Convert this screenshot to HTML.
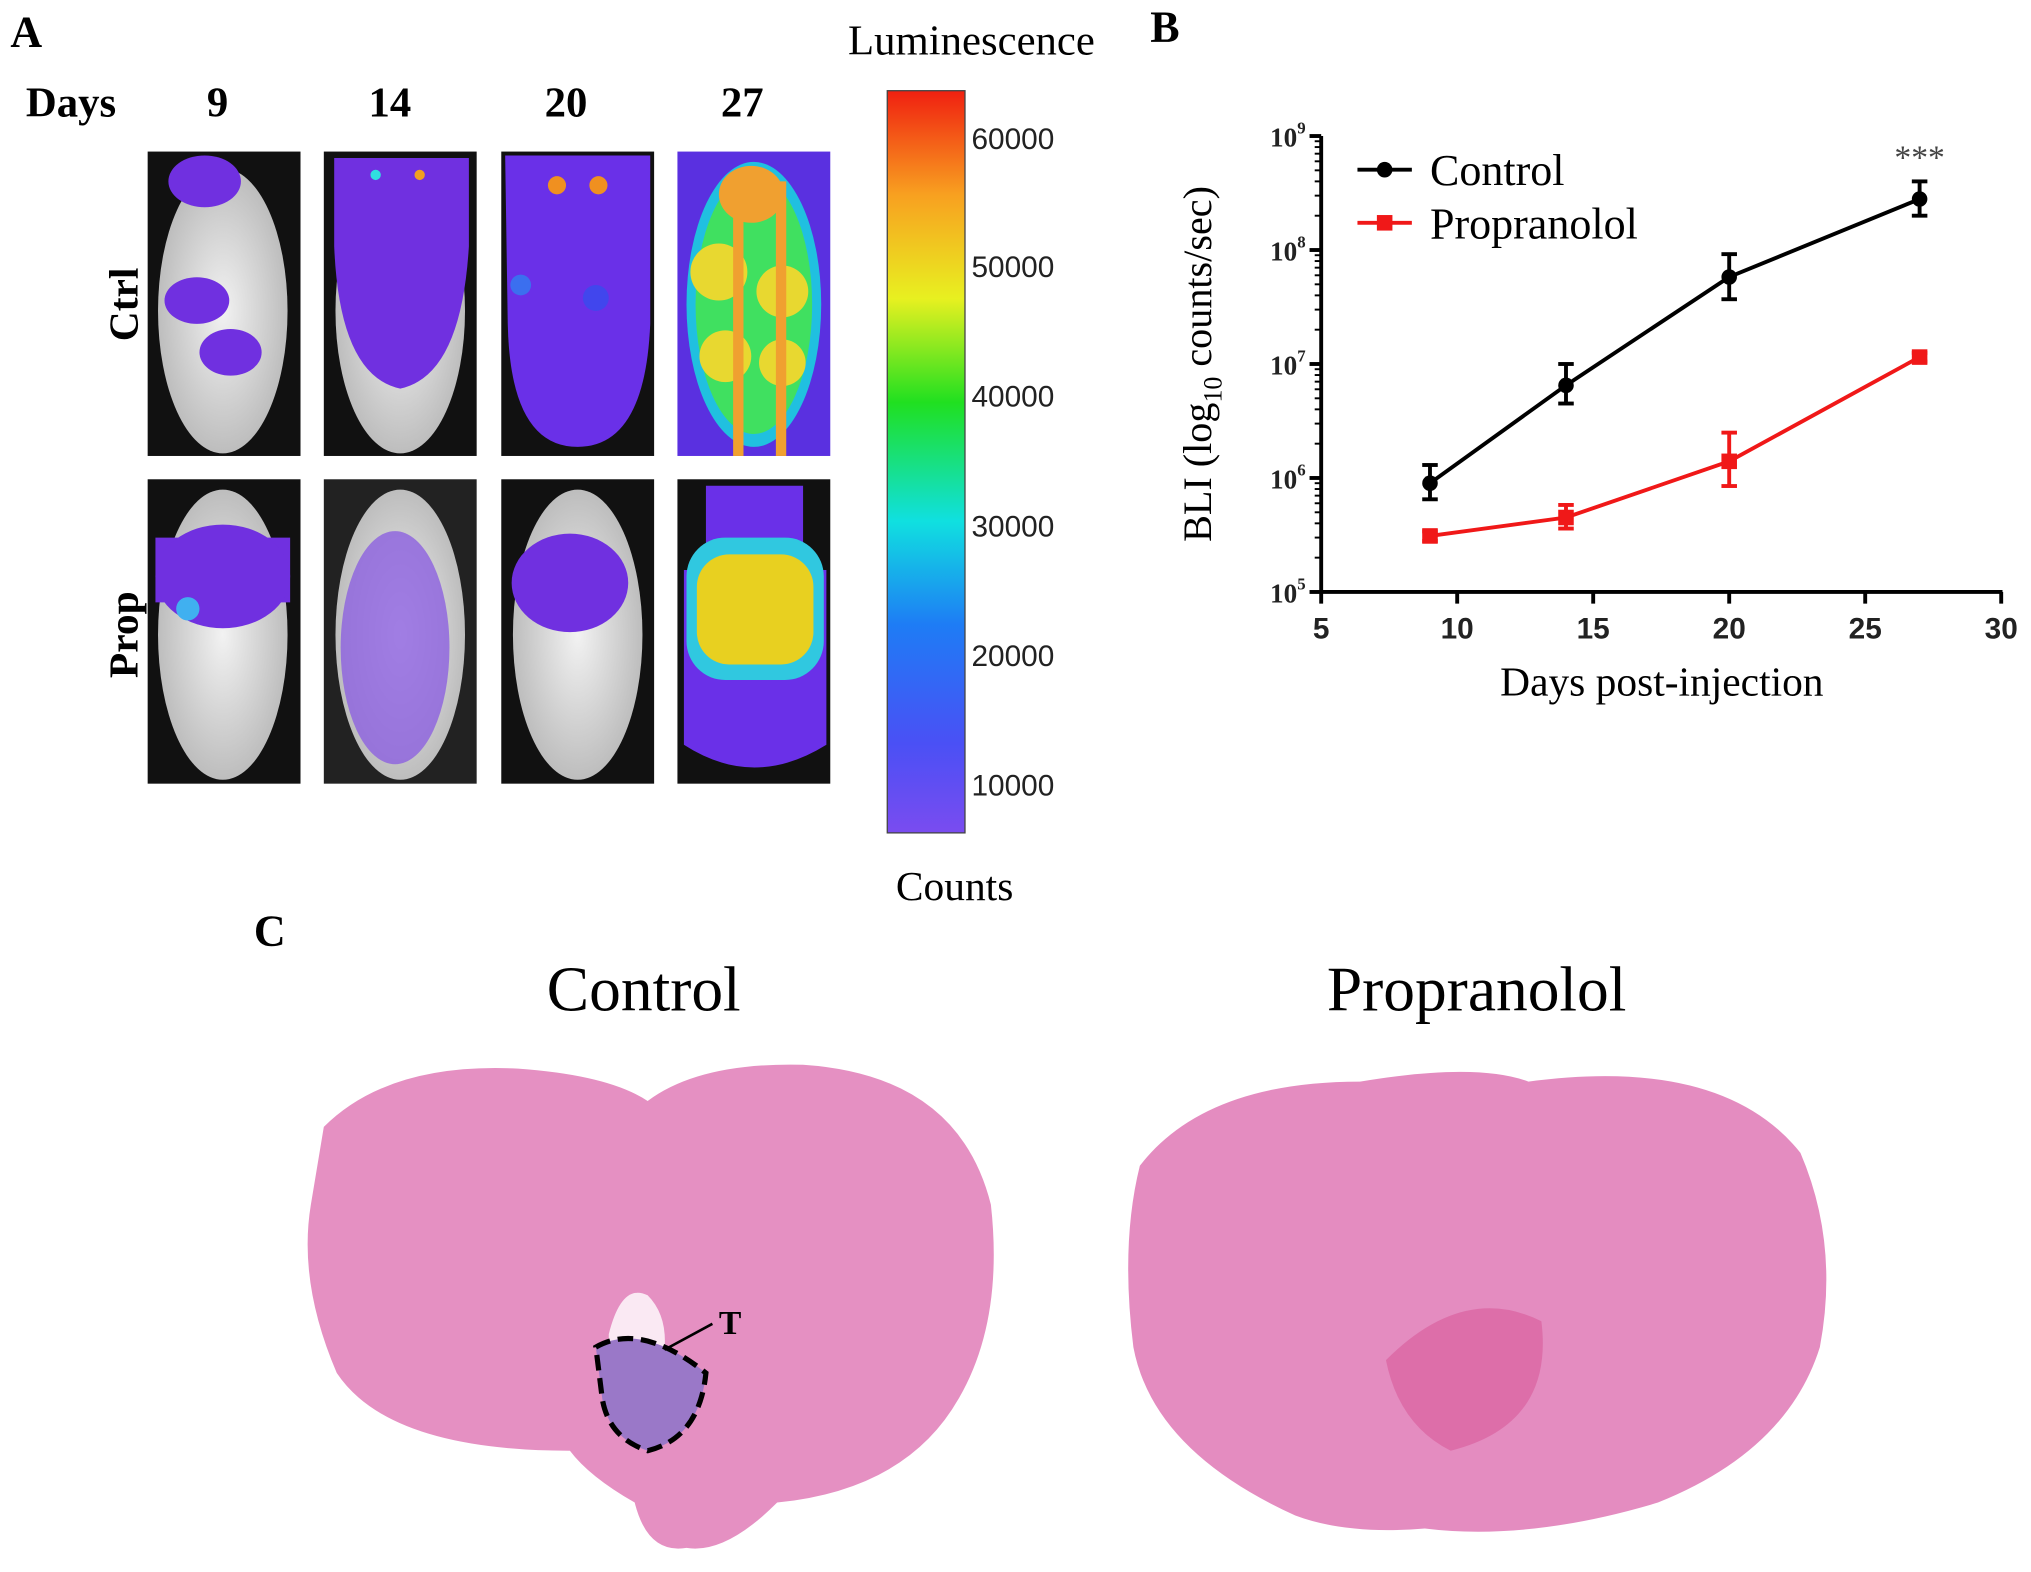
<!DOCTYPE html>
<html><head><meta charset="utf-8"><style>
html,body{margin:0;padding:0;background:#fff;}
svg{display:block;font-family:"Liberation Serif",serif;}
</style></head><body>
<svg width="2031" height="1572" viewBox="0 0 1568 1213.6" xmlns="http://www.w3.org/2000/svg">
<defs>
<linearGradient id="cbar" x1="0" y1="1" x2="0" y2="0">
<stop offset="0" stop-color="#7a4cf0"/><stop offset="0.12" stop-color="#4a50f5"/><stop offset="0.28" stop-color="#1e7cf5"/><stop offset="0.42" stop-color="#10e0e0"/><stop offset="0.58" stop-color="#20e020"/><stop offset="0.72" stop-color="#e8f020"/><stop offset="0.86" stop-color="#f8a020"/><stop offset="1" stop-color="#f02010"/>
</linearGradient>
<radialGradient id="mouseW" cx="0.5" cy="0.5" r="0.55"><stop offset="0" stop-color="#f2f2f2"/><stop offset="1" stop-color="#b8b8b8"/></radialGradient>
</defs>

<!-- Panel A -->
<text x="8" y="36" font-size="34" font-weight="bold">A</text>
<text x="20" y="90" font-size="33" font-weight="bold">Days</text>
<g font-size="33" font-weight="bold" text-anchor="middle">
<text x="168" y="90">9</text><text x="301" y="90">14</text><text x="437" y="90">20</text><text x="573" y="90">27</text>
</g>
<text transform="translate(106,235) rotate(-90)" font-size="32" font-weight="bold" text-anchor="middle">Ctrl</text>
<text transform="translate(106,490) rotate(-90)" font-size="32" font-weight="bold" text-anchor="middle">Prop</text>

<!-- mice row 1 -->
<g><rect x="114" y="117" width="118" height="235" fill="#111"/><ellipse cx="172" cy="240" rx="50" ry="110" fill="url(#mouseW)"/><ellipse cx="158" cy="140" rx="28" ry="20" fill="#7030e0"/><ellipse cx="152" cy="232" rx="25" ry="18" fill="#7030e0"/><ellipse cx="178" cy="272" rx="24" ry="18" fill="#7030e0"/></g>
<g><rect x="250" y="117" width="118" height="235" fill="#111"/><ellipse cx="309" cy="240" rx="50" ry="110" fill="url(#mouseW)"/><path d="M258 122 H362 V190 Q356 290 309 300 Q262 290 258 190Z" fill="#7030e0"/><circle cx="290" cy="135" r="4" fill="#30e0e0"/><circle cx="324" cy="135" r="4" fill="#f0a020"/></g>
<g><rect x="387" y="117" width="118" height="235" fill="#111"/><path d="M390 120 H502 V250 Q498 345 446 345 Q394 345 392 250Z" fill="#6a30e8"/><circle cx="430" cy="143" r="7" fill="#f09020"/><circle cx="462" cy="143" r="7" fill="#f09020"/><circle cx="402" cy="220" r="8" fill="#3080f0" opacity=".8"/><circle cx="460" cy="230" r="10" fill="#3050f0" opacity=".7"/></g>
<g><rect x="523" y="117" width="118" height="235" fill="#5a30e0"/><ellipse cx="582" cy="235" rx="52" ry="110" fill="#20c0e0"/><ellipse cx="582" cy="235" rx="45" ry="100" fill="#40e060"/><circle cx="555" cy="210" r="22" fill="#e8d830"/><circle cx="604" cy="225" r="20" fill="#e8d830"/><circle cx="560" cy="275" r="20" fill="#e8d830"/><circle cx="604" cy="280" r="18" fill="#e8d830"/><ellipse cx="580" cy="150" rx="25" ry="22" fill="#f0a030"/><rect x="566" y="140" width="8" height="212" fill="#f0a030"/><rect x="599" y="140" width="8" height="212" fill="#f0a030"/></g>
<!-- mice row 2 -->
<g><rect x="114" y="370" width="118" height="235" fill="#111"/><ellipse cx="172" cy="490" rx="50" ry="112" fill="url(#mouseW)"/><path d="M120 415 H224 V465 H120Z" fill="#7030e0"/><ellipse cx="172" cy="445" rx="52" ry="40" fill="#7030e0"/><circle cx="145" cy="470" r="9" fill="#40b0f0"/></g>
<g><rect x="250" y="370" width="118" height="235" fill="#222"/><ellipse cx="309" cy="490" rx="50" ry="112" fill="url(#mouseW)"/><ellipse cx="305" cy="500" rx="42" ry="90" fill="#8c60e0" opacity=".8"/></g>
<g><rect x="387" y="370" width="118" height="235" fill="#111"/><ellipse cx="446" cy="490" rx="50" ry="112" fill="url(#mouseW)"/><ellipse cx="440" cy="450" rx="45" ry="38" fill="#7030e0"/></g>
<g><rect x="523" y="370" width="118" height="235" fill="#111"/><path d="M545 375 H620 V440 H638 V575 Q582 610 528 575 V440 H545Z" fill="#6a30e8"/><rect x="530" y="415" width="106" height="110" rx="30" fill="#30c8e0"/><rect x="538" y="428" width="90" height="85" rx="25" fill="#e8d020"/></g>

<!-- colorbar -->
<rect x="685" y="70" width="60" height="573" fill="url(#cbar)" stroke="#444" stroke-width="1"/>
<g font-size="23" font-family="Liberation Sans, sans-serif" fill="#222">
<text x="750" y="115">60000</text><text x="750" y="214">50000</text><text x="750" y="314">40000</text><text x="750" y="414">30000</text><text x="750" y="514">20000</text><text x="750" y="614">10000</text>
</g>
<text x="750" y="42" font-size="33" text-anchor="middle">Luminescence</text>
<text x="737" y="695" font-size="32" text-anchor="middle">Counts</text>

<!-- Panel B -->
<text x="888" y="32" font-size="34" font-weight="bold">B</text>
<g id="chart"></g>
<text transform="translate(935,281) rotate(-90)" font-size="31" text-anchor="middle">BLI (log<tspan font-size="20" dy="8">10</tspan><tspan dy="-8"> counts/sec)</tspan></text>
<text x="1283" y="537" font-size="32" text-anchor="middle">Days post-injection</text>

<!-- Panel C -->
<text x="196" y="730" font-size="34" font-weight="bold">C</text>
<text x="497" y="780" font-size="49" text-anchor="middle">Control</text>
<text x="1140" y="780" font-size="49" text-anchor="middle">Propranolol</text>
<g>
<path d="M250 870 Q300 820 400 825 Q470 830 500 850 Q540 820 620 822 Q740 830 765 930 Q775 1020 740 1080 Q700 1150 600 1160 Q560 1200 530 1195 Q500 1200 490 1160 Q455 1140 440 1120 Q300 1120 260 1060 Q230 990 240 930 Z" fill="#e590c2"/>
<path d="M470 1030 Q480 990 500 1000 Q520 1020 510 1060 Q490 1080 470 1060Z" fill="#fff" opacity=".8"/>
<path d="M460 1040 Q495 1020 545 1060 Q540 1110 500 1120 Q470 1110 465 1080 Z" fill="#9a78c8" stroke="#000" stroke-width="4" stroke-dasharray="12 6"/>
<text x="555" y="1030" font-size="26" font-weight="bold">T</text>
<line x1="550" y1="1022" x2="513" y2="1042" stroke="#000" stroke-width="2"/>
</g>
<g>
<path d="M880 900 Q930 835 1050 835 Q1140 820 1180 835 Q1330 815 1390 890 Q1420 960 1405 1040 Q1380 1120 1280 1160 Q1180 1190 1100 1180 Q1040 1185 1000 1170 Q890 1120 875 1040 Q865 960 880 900 Z" fill="#e48cc0"/>
<path d="M1070 1050 Q1130 990 1190 1020 Q1200 1100 1120 1120 Q1080 1100 1070 1050Z" fill="#d95a9a" opacity=".6"/>
</g>

<script>
const days = [9, 14, 20, 27];
const ctrlMean = [9e5, 6.5e6, 5.8e7, 2.8e8];
const ctrlLow = [6.5e5, 4.5e6, 3.7e7, 2.0e8];
const ctrlHigh = [1.3e6, 1.0e7, 9.2e7, 4.0e8];
const propMean = [3.1e5, 4.5e5, 1.4e6, 1.15e7];
const propLow = [2.8e5, 3.6e5, 8.5e5, 1.05e7];
const propHigh = [3.4e5, 5.8e5, 2.5e6, 1.25e7];
const xTicks = [5, 10, 15, 20, 25, 30];
const yExps = [5, 6, 7, 8, 9];

const NS = 'http://www.w3.org/2000/svg';
const g = document.getElementById('chart');
const X0 = 1020, X1 = 1545, Y0 = 457, Y1 = 105;
const sx = d => X0 + (d - 5) / 25 * (X1 - X0);
const sy = v => Y0 - (Math.log10(v) - 5) / 4 * (Y0 - Y1);
function mk(tag, attrs, parent) {
  const e = document.createElementNS(NS, tag);
  for (const k in attrs) e.setAttribute(k, attrs[k]);
  (parent || g).appendChild(e);
  return e;
}
let e;
e = mk('line', {x1: X0, y1: Y0, x2: X1 + 1, y2: Y0, stroke: '#000', 'stroke-width': 3});


e = mk('line', {x1: X0, y1: Y0 + 1, x2: X0, y2: Y1, stroke: '#000', 'stroke-width': 3});


xTicks.forEach(t => {
  mk('line', {x1: sx(t), y1: Y0, x2: sx(t), y2: Y0 + 9, stroke: '#000', 'stroke-width': 3});
  e = mk('text', {x: sx(t), y: Y0 + 36, 'font-size': 23, 'font-weight': 'bold', 'text-anchor': 'middle', 'font-family': 'Liberation Sans, sans-serif', fill: '#222'});
  e.textContent = t;
  
  
});
yExps.forEach(p => {
  const y = sy(Math.pow(10, p));
  mk('line', {x1: X0 - 9, y1: y, x2: X0, y2: y, stroke: '#000', 'stroke-width': 3});
  if (p < 9) for (let m = 2; m <= 9; m++) {
    const yy = sy(m * Math.pow(10, p));
    mk('line', {x1: X0 - 5, y1: yy, x2: X0, y2: yy, stroke: '#000', 'stroke-width': 1.5});
  }
  e = mk('text', {x: X0 - 12, y: y + 8, 'font-size': 21, 'font-weight': 'bold', 'text-anchor': 'end', fill: '#222'});
  e.textContent = '10';
  
  
  const s = mk('tspan', {'font-size': 13, dy: -10}, e);
  s.textContent = p;
});
function series(mean, lo, hi, color, marker, name) {
  const pts = days.map((d, i) => sx(d) + ',' + sy(mean[i])).join(' ');
  e = mk('polyline', {points: pts, fill: 'none', stroke: color, 'stroke-width': 3});
  
  
  days.forEach((d, i) => {
    const x = sx(d);
    mk('line', {x1: x, y1: sy(lo[i]), x2: x, y2: sy(hi[i]), stroke: color, 'stroke-width': 3});
    mk('line', {x1: x - 6, y1: sy(lo[i]), x2: x + 6, y2: sy(lo[i]), stroke: color, 'stroke-width': 3});
    mk('line', {x1: x - 6, y1: sy(hi[i]), x2: x + 6, y2: sy(hi[i]), stroke: color, 'stroke-width': 3});
    if (marker === 'c') e = mk('circle', {cx: x, cy: sy(mean[i]), r: 6, fill: color});
    else e = mk('rect', {x: x - 6, y: sy(mean[i]) - 6, width: 12, height: 12, fill: color});
    
    
  });
}
series(ctrlMean, ctrlLow, ctrlHigh, '#000', 'c', 'control');
series(propMean, propLow, propHigh, '#f01818', 's', 'propranolol');
e = mk('text', {x: sx(27), y: 130, 'font-size': 26, 'text-anchor': 'middle', fill: '#444'});
e.textContent = '***';


// legend
e = mk('g', {});


mk('line', {x1: 1048, y1: 131, x2: 1090, y2: 131, stroke: '#000', 'stroke-width': 3}, e);
mk('circle', {cx: 1069, cy: 131, r: 6, fill: '#000'}, e);
let t = mk('text', {x: 1104, y: 143, 'font-size': 34}, e);
t.textContent = 'Control';
mk('line', {x1: 1048, y1: 172, x2: 1090, y2: 172, stroke: '#f01818', 'stroke-width': 3}, e);
mk('rect', {x: 1063, y: 166, width: 12, height: 12, fill: '#f01818'}, e);
t = mk('text', {x: 1104, y: 184, 'font-size': 34}, e);
t.textContent = 'Propranolol';
</script>
</svg>
</body></html>
